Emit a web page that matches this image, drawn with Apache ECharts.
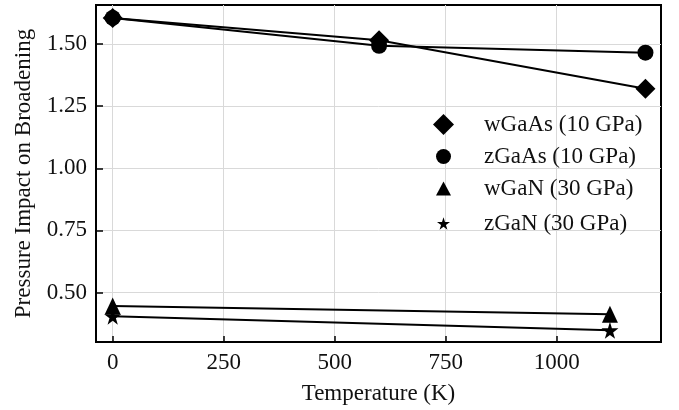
<!DOCTYPE html>
<html>
<head>
<meta charset="utf-8">
<script src="https://cdn.jsdelivr.net/npm/echarts@6/dist/echarts.min.js"></script>
<style>
  html, body { margin: 0; padding: 0; background: #fff; }
  #chart { width: 679px; height: 410px; }
</style>
</head>
<body>
<div id="chart"></div>
<script>
// series values: [temperature K, pressure impact]
const wGaAs = [[0, 1.605], [600, 1.515], [1200, 1.32]];
const zGaAs = [[0, 1.605], [600, 1.493], [1200, 1.465]];
const wGaN = [[0, 0.446], [1120, 0.413]];
const zGaN = [[0, 0.405], [1120, 0.348]];

const seriesNames = ['wGaAs (10 GPa)', 'zGaAs (10 GPa)', 'wGaN (30 GPa)', 'zGaN (30 GPa)'];
const xTicks = [0, 250, 500, 750, 1000];
const yTicks = [0.5, 0.75, 1.0, 1.25, 1.5];

const STAR = 'path://M50,0 L61,35 L98,35 L68,57 L79,91 L50,70 L21,91 L32,57 L2,35 L39,35 Z';
const FONT = 'Liberation Serif';

const chart = echarts.init(document.getElementById('chart'));

// one legend per entry so each marker keeps its own size
const legendSpec = [
  { icon: 'diamond', w: 21, h: 21, cy: 125 },
  { icon: 'circle', w: 15, h: 15, cy: 157 },
  { icon: 'triangle', w: 15, h: 14, cy: 189 },
  { icon: STAR, w: 13, h: 13, cy: 224 }
];
const legends = legendSpec.map((l, i) => ({
  data: [{ name: seriesNames[i], icon: l.icon }],
  padding: 0,
  left: Math.round(443 - l.w / 2),
  top: l.cy - 12,
  itemWidth: l.w,
  itemHeight: l.h,
  itemStyle: { color: '#000', borderWidth: 0 },
  textStyle: {
    fontFamily: FONT, fontSize: 23, color: '#111',
    padding: [0, 0, 0, Math.round(483 - 443 - l.w / 2 - 5)]
  }
}));

function lineSeries(name, data, symbol, size) {
  return {
    name: name,
    type: 'line',
    data: data,
    symbol: symbol,
    symbolSize: size,
    showSymbol: true,
    lineStyle: { color: '#000', width: 2 },
    itemStyle: { color: '#000', borderWidth: 0 },
    z: 3
  };
}

const option = {
  animation: false,
  backgroundColor: '#fff',
  grid: {
    left: 96, top: 5, width: 565, height: 339,
    show: true, borderColor: '#000', borderWidth: 2, backgroundColor: 'transparent'
  },
  legend: legends,
  xAxis: {
    type: 'value',
    min: -37.6,
    max: 1235,
    name: 'Temperature (K)',
    nameLocation: 'middle',
    nameGap: 40,
    nameTextStyle: { fontFamily: FONT, fontSize: 23, color: '#111' },
    axisLine: { show: true, onZero: false, lineStyle: { color: '#000', width: 2 } },
    axisTick: { show: true, inside: true, length: 6, customValues: xTicks, lineStyle: { color: '#000', width: 1.5 } },
    axisLabel: {
      customValues: xTicks, margin: 9, fontFamily: FONT, fontSize: 23, color: '#111',
      formatter: v => String(v)
    },
    splitLine: { show: true, lineStyle: { color: '#d9d9d9', width: 1 } }
  },
  yAxis: {
    type: 'value',
    min: 0.301,
    max: 1.657,
    name: 'Pressure Impact on Broadening',
    nameLocation: 'middle',
    nameGap: 60,
    nameTextStyle: { fontFamily: FONT, fontSize: 23, color: '#111' },
    axisLine: { show: true, onZero: false, lineStyle: { color: '#000', width: 2 } },
    axisTick: { show: true, inside: true, length: 7, customValues: yTicks, lineStyle: { color: '#000', width: 1.5 } },
    axisLabel: {
      customValues: yTicks, margin: 9, fontFamily: FONT, fontSize: 23, color: '#111',
      formatter: v => v.toFixed(2)
    },
    splitLine: { show: true, lineStyle: { color: '#d9d9d9', width: 1 } }
  },
  series: [
    lineSeries(seriesNames[0], wGaAs, 'diamond', 20),
    lineSeries(seriesNames[1], zGaAs, 'circle', 16),
    lineSeries(seriesNames[2], wGaN, 'triangle', [16, 17]),
    lineSeries(seriesNames[3], zGaN, STAR, 17)
  ]
};

chart.setOption(option);
</script>
</body>
</html>
